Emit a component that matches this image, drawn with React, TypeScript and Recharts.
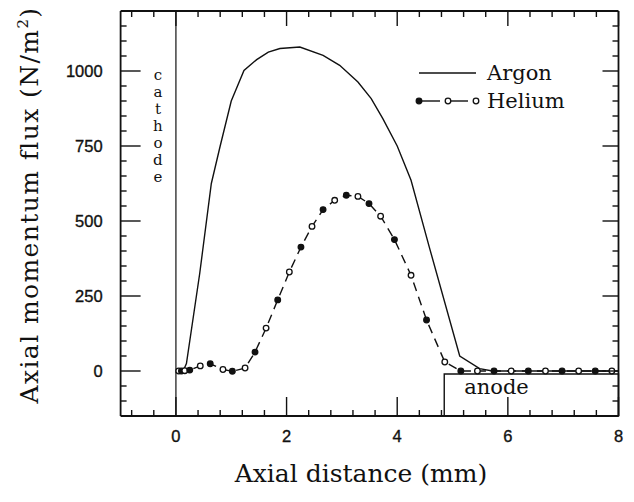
import { ComposedChart, Line, XAxis, YAxis, ReferenceLine, ReferenceArea } from 'recharts'

// argon: solid curve (mm, N/m^2)
const argonPos = [0.13, 0.19, 0.43, 0.64, 0.8, 1.0, 1.23, 1.46, 1.67, 1.88, 2.24, 2.66, 2.96, 3.29, 3.53, 3.74, 4.0, 4.25, 4.58, 5.13, 5.49, 5.72, 8.0]
const argonFlux = [0, 25, 325, 625, 750, 900, 1002, 1038, 1063, 1075, 1080, 1052, 1019, 963, 908, 841, 750, 636, 413, 50, 8, 0, 0]

// helium: dashed with markers
const heliumPos = [0.05, 0.1, 0.16, 0.25, 0.44, 0.62, 0.85, 1.02, 1.25, 1.43, 1.63, 1.84, 2.05, 2.26, 2.46, 2.66, 2.87, 3.08, 3.29, 3.49, 3.7, 3.95, 4.25, 4.53, 4.86, 5.15, 5.45, 5.75, 6.06, 6.37, 6.68, 6.98, 7.28, 7.58, 7.88]
const heliumFlux = [0, 0, 1, 3, 17, 24, 5, -1, 10, 63, 143, 237, 330, 413, 482, 538, 569, 586, 582, 558, 516, 438, 319, 170, 30, 0, 0, 0, 0, 0, 0, 0, 0, 0, 0]

const xTicks = [-0.8, -0.4, 0, 0.4, 0.8, 1.2, 1.6, 2, 2.4, 2.8, 3.2, 3.6, 4, 4.4, 4.8, 5.2, 5.6, 6, 6.4, 6.8, 7.2, 7.6, 8]
const xMajor = [0, 2, 4, 6, 8]
const yTicks = [-100, -50, 0, 50, 100, 150, 200, 250, 300, 350, 400, 450, 500, 550, 600, 650, 700, 750, 800, 850, 900, 950, 1000, 1050, 1100, 1150]
const yMajor = [0, 250, 500, 750, 1000]

const argonData = argonPos.map((x, i) => ({ x, argon: argonFlux[i] }))
const heliumData = heliumPos.map((x, i) => ({ x, helium: heliumFlux[i] }))

const INK = '#111'
const SERIF = '"DejaVu Serif", serif'
const SANS = '"Liberation Sans", Arial, sans-serif'

const isMajor = (v: number, majors: number[]) => majors.some((m) => Math.abs(m - v) < 1e-6)

function makeTick(side: 'left' | 'right' | 'top' | 'bottom', majorLen: number, labels: boolean) {
  return (props: any) => {
    const { x, y, payload } = props
    const v = payload.value as number
    const major = isMajor(v, side === 'left' || side === 'right' ? yMajor : xMajor)
    const len = major ? majorLen : 6
    let x2 = x, y2 = y
    if (side === 'left') x2 = x + len
    if (side === 'right') x2 = x - len
    if (side === 'bottom') y2 = y - len
    if (side === 'top') y2 = y + len
    const txt = { fontFamily: SANS, fontSize: 16.5, fill: INK, stroke: INK, strokeWidth: 0.35 }
    return (
      <g>
        <line x1={x} y1={y} x2={x2} y2={y2} stroke={INK} strokeWidth={1.4} />
        {labels && major && side === 'left' && (
          <text x={x - 18} y={y + 6} textAnchor="end" {...txt}>{v}</text>
        )}
        {labels && major && side === 'bottom' && (
          <text x={x} y={y + 26} textAnchor="middle" {...txt}>{v}</text>
        )}
      </g>
    )
  }
}

const HeliumDot = (props: any) => {
  const { cx, cy, index } = props
  if (cx == null || cy == null) return null
  const filled = index % 2 === 1
  return <circle cx={cx} cy={cy} r={2.8} fill={filled ? INK : '#fff'} stroke={INK} strokeWidth={1.3} />
}

const CathodeLabel = (props: any) => {
  const vb = props.viewBox || {}
  const letters = 'cathode'.split('')
  return (
    <g>
      {letters.map((c, i) => (
        <text key={i} x={vb.x - 18} y={80 + i * 17} textAnchor="middle" fontFamily={SERIF} fontSize={15} fill={INK}>{c}</text>
      ))}
    </g>
  )
}

const AnodeLabel = (props: any) => {
  const vb = props.viewBox || {}
  return (
    <text x={vb.x + 20} y={vb.y + 20} fontFamily={SERIF} fontSize={21} fill={INK}>anode</text>
  )
}

const LegendBox = () => (
  <svg width={200} height={56} style={{ position: 'absolute', left: 410, top: 58 }}>
    <line x1={9} y1={15} x2={66} y2={15} stroke={INK} strokeWidth={1.4} />
    <text x={77} y={22} fontFamily={SERIF} fontSize={21} fill={INK}>Argon</text>
    <line x1={9} y1={43} x2={30} y2={43} stroke={INK} strokeWidth={1.4} />
    <line x1={38} y1={43} x2={58} y2={43} stroke={INK} strokeWidth={1.4} />
    <circle cx={9} cy={43} r={2.8} fill={INK} stroke={INK} strokeWidth={1.3} />
    <circle cx={38} cy={43} r={2.8} fill="#fff" stroke={INK} strokeWidth={1.3} />
    <circle cx={66} cy={43} r={2.8} fill="#fff" stroke={INK} strokeWidth={1.3} />
    <text x={77} y={50} fontFamily={SERIF} fontSize={21} fill={INK}>Helium</text>
  </svg>
)

export default function App() {
  return (
    <div style={{ position: 'absolute', left: 0, top: 0, width: 634, height: 502, background: '#fff' }}>
      <ComposedChart width={634} height={502} margin={{ top: 6, right: 5.5, bottom: 36, left: 60.6 }}>
        <XAxis
          xAxisId="b"
          dataKey="x"
          type="number"
          domain={[-1, 8]}
          ticks={xTicks}
          interval={0}
          allowDataOverflow
          height={50}
          tickSize={0}
          tickMargin={0}
          axisLine={{ stroke: INK, strokeWidth: 2 }}
          tick={makeTick('bottom', 19, true)}
          label={() => (
            <text x={361} y={482} textAnchor="middle" fontFamily={SERIF} fontSize={25} fill={INK}>Axial distance (mm)</text>
          )}
        />
        <XAxis
          xAxisId="t"
          orientation="top"
          dataKey="x"
          type="number"
          domain={[-1, 8]}
          ticks={xTicks}
          interval={0}
          allowDataOverflow
          height={5}
          tickSize={0}
          tickMargin={0}
          axisLine={{ stroke: INK, strokeWidth: 1.8 }}
          tick={makeTick('top', 15, false)}
        />
        <YAxis
          yAxisId="l"
          type="number"
          domain={[-150, 1200]}
          ticks={yTicks}
          interval={0}
          allowDataOverflow
          width={60}
          tickSize={0}
          tickMargin={0}
          axisLine={{ stroke: INK, strokeWidth: 1.8 }}
          tick={makeTick('left', 20, true)}
          label={() => (
            <text x={38} y={205} transform="rotate(-90 38 205)" textAnchor="middle" fontFamily={SERIF} fontSize={25} letterSpacing={1.4} fill={INK}>
              Axial momentum flux (N/m<tspan dy={-10} fontSize={15}>2</tspan><tspan dy={10}>)</tspan>
            </text>
          )}
        />
        <YAxis
          yAxisId="r"
          orientation="right"
          type="number"
          domain={[-150, 1200]}
          ticks={yTicks}
          interval={0}
          allowDataOverflow
          width={10}
          tickSize={0}
          tickMargin={0}
          axisLine={{ stroke: INK, strokeWidth: 1.8 }}
          tick={makeTick('right', 16, false)}
        />
        <ReferenceLine xAxisId="b" yAxisId="l" x={0} stroke={INK} strokeWidth={1.2} label={<CathodeLabel />} />
        <ReferenceArea
          xAxisId="b"
          yAxisId="l"
          x1={4.85}
          x2={8}
          y1={-150}
          y2={-10}
          fill="#fff"
          fillOpacity={1}
          stroke={INK}
          strokeWidth={1.4}
          label={<AnodeLabel />}
        />
        <Line
          xAxisId="b"
          yAxisId="l"
          data={argonData}
          dataKey="argon"
          type="linear"
          stroke={INK}
          strokeWidth={1.4}
          dot={false}
          isAnimationActive={false}
        />
        <Line
          xAxisId="b"
          yAxisId="l"
          data={heliumData}
          dataKey="helium"
          type="linear"
          stroke={INK}
          strokeWidth={1.4}
          strokeDasharray="9 6"
          dot={<HeliumDot />}
          isAnimationActive={false}
        />
      </ComposedChart>
      <LegendBox />
    </div>
  )
}
